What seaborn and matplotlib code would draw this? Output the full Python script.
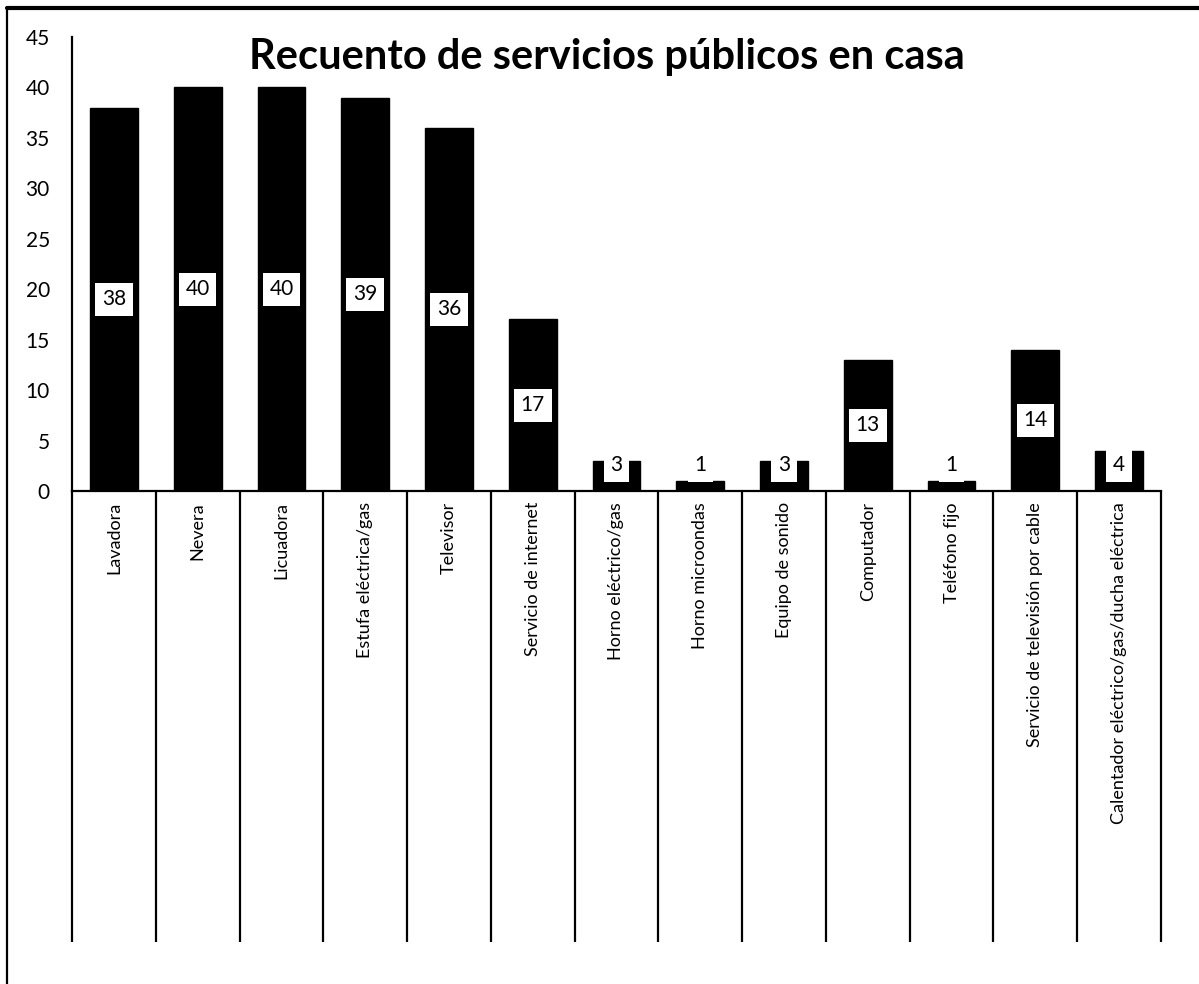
import matplotlib
matplotlib.use("Agg")
import matplotlib.pyplot as plt
import seaborn as sns
import pandas as pd
from matplotlib.lines import Line2D

categorias = ["Lavadora", "Nevera", "Licuadora", "Estufa eléctrica/gas", "Televisor",
              "Servicio de internet", "Horno eléctrico/gas", "Horno microondas",
              "Equipo de sonido", "Computador", "Teléfono fijo",
              "Servicio de televisión por cable", "Calentador eléctrico/gas/ducha eléctrica"]
valores = [38, 40, 40, 39, 36, 17, 3, 1, 3, 13, 1, 14, 4]
titulo = "Recuento de servicios públicos en casa"
yticks = list(range(0, 46, 5))

sns.set_theme(style="white")
plt.rcParams["font.family"] = ["Lato", "DejaVu Sans"]

df = pd.DataFrame({"cat": categorias, "val": valores})

fig = plt.figure(figsize=(11.99, 9.84), dpi=100)
ax = fig.add_axes([72/1199, 1-491/984, (1161-72)/1199, (491-37)/984])

sns.barplot(data=df, x="cat", y="val", color="black", width=0.57,
            saturation=1, ax=ax, edgecolor="black")

ax.set_ylim(0, 45)
ax.set_xlim(-0.5, len(categorias)-0.5)
ax.set_yticks(yticks)
ax.set_yticklabels([str(t) for t in yticks], fontsize=15, color="black")
ax.tick_params(axis="y", length=0, pad=16)
ax.set_xlabel("")
ax.set_ylabel("")
ax.set_xticks(range(len(categorias)))
ax.set_xticklabels(categorias, rotation=90, fontsize=13, color="black", va="top")
ax.tick_params(axis="x", which="major", length=0, pad=8)
ax.set_xticks([i - 0.5 for i in range(len(categorias)+1)], minor=True)
ax.tick_params(axis="x", which="minor", length=325, width=1.6, color="black", direction="out")
ax.xaxis.set_ticks_position("bottom")

for s in ["top", "right"]:
    ax.spines[s].set_visible(False)
ax.spines["left"].set_color("black")
ax.spines["left"].set_linewidth(1.6)
ax.spines["bottom"].set_color("black")
ax.spines["bottom"].set_linewidth(1.6)

label_min = 2.55  # labels of short bars sit just above the axis
for i, v in enumerate(valores):
    ax.text(i, max(v/2, label_min), str(v), ha="center", va="center", fontsize=15,
            color="black",
            bbox=dict(boxstyle="square,pad=0.32", fc="white", ec="none"))

fig.text(607/1199, 1-57/984, titulo, ha="center", va="center", fontsize=30,
         fontweight="bold", color="black")

fig.add_artist(Line2D([7/1199, 1.01], [1-8/984, 1-8/984], color="black", lw=3,
                      transform=fig.transFigure))
fig.add_artist(Line2D([7/1199, 7/1199], [1-8/984, -0.01], color="black", lw=1.6,
                      transform=fig.transFigure))

fig.savefig("out.png", dpi=100, facecolor="white")
